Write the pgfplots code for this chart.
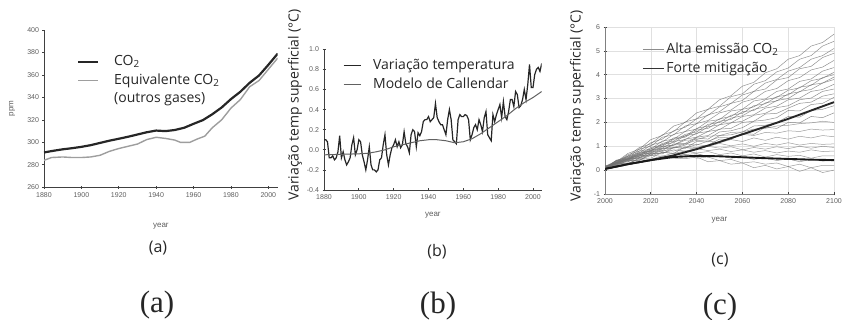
\documentclass[border=0pt]{standalone}
\usepackage{fontspec}
\setmainfont{Open Sans}
\newfontfamily\tickfont{Liberation Sans}
\newfontfamily\bigfont{Liberation Serif}
\usepackage{pgfplots}
\pgfplotsset{compat=1.18}
\usepackage{pgfplotstable}
\definecolor{txt}{HTML}{262626}
\definecolor{tk}{HTML}{5E5E5E}

\pgfplotstableread{
year h1 h2 h3 h4 h5 h6 h7 h8 h9 h10 h11 h12 h13 h14 h15 h16 m1 m2 m3 m4 m5 m6 m7 m8 m9 m10
2000 .10 .05 .15 .08 .12 .10 .05 .15 .08 .12 .10 .18 .05 .15 .10 .12 .10 .05 .12 .08 .15 .10 .05 .12 .10 .15
2005 .28 .18 .30 .25 .32 .22 .35 .25 .38 .28 .40 .30 .42 .32 .40 .35 .25 .30 .20 .32 .22 .35 .28 .38 .30 .40
2010 .25 .42 .35 .48 .40 .50 .42 .55 .45 .58 .48 .60 .52 .65 .58 .70 .30 .25 .40 .35 .45 .38 .48 .42 .52 .45
2015 .52 .40 .60 .52 .65 .58 .70 .62 .75 .65 .80 .72 .88 .80 .95 .88 .45 .50 .42 .55 .50 .60 .52 .68 .60 .72
2020 .50 .70 .62 .78 .72 .85 .80 .90 .82 .95 .88 1.05 1.00 1.15 1.10 1.28 .40 .45 .62 .60 .68 .65 .75 .70 .82 .78
2025 .75 .68 .90 .82 .98 .92 1.08 1.00 1.12 1.05 1.22 1.18 1.38 1.30 1.48 1.45 .55 .60 .58 .75 .72 .82 .78 .92 .88 1.00
2030 .70 .95 .92 1.10 1.05 1.20 1.15 1.30 1.22 1.35 1.30 1.50 1.48 1.65 1.62 1.85 .50 .55 .72 .70 .85 .80 .95 .95 1.05 1.05
2035 .98 .92 1.05 1.12 1.30 1.28 1.45 1.38 1.50 1.42 1.62 1.62 1.85 1.80 2.02 2.00 .48 .65 .65 .80 .80 .95 .92 1.10 1.10 1.25
2040 .95 1.20 1.35 1.38 1.38 1.55 1.52 1.68 1.60 1.75 1.72 1.95 1.95 2.15 2.15 2.40 .55 .50 .70 .72 .90 .88 1.08 1.05 1.25 1.28
2045 1.05 1.18 1.30 1.45 1.62 1.62 1.82 1.75 1.92 1.85 2.05 2.08 2.32 2.30 2.55 2.55 .35 .55 .55 .78 .82 1.00 1.00 1.22 1.22 1.42
2050 1.30 1.45 1.60 1.72 1.70 1.90 1.90 2.05 2.00 2.15 2.12 2.40 2.45 2.65 2.68 2.95 .40 .40 .62 .65 .88 .92 1.12 1.15 1.38 1.45
2055 1.28 1.48 1.65 1.75 1.98 1.98 2.18 2.12 2.30 2.25 2.48 2.52 2.80 2.80 3.08 3.12 .25 .45 .50 .72 .78 .98 1.02 1.28 1.35 1.58
2060 1.55 1.60 1.78 2.00 2.05 2.25 2.28 2.45 2.38 2.55 2.55 2.85 2.92 3.15 3.20 3.52 .30 .30 .55 .60 .85 .85 1.10 1.20 1.50 1.60
2065 1.50 1.85 2.05 2.05 2.30 2.32 2.55 2.50 2.70 2.65 2.90 2.98 3.30 3.30 3.60 3.68 .10 .35 .45 .68 .75 .95 1.00 1.35 1.45 1.72
2070 1.80 1.88 2.10 2.35 2.38 2.60 2.65 2.82 2.78 2.95 2.98 3.30 3.40 3.65 3.75 4.08 .20 .25 .52 .55 .82 .88 1.12 1.25 1.58 1.75
2075 1.75 2.00 2.20 2.38 2.62 2.68 2.92 2.90 3.08 3.05 3.30 3.42 3.78 3.80 4.12 4.25 .05 .30 .40 .65 .72 .98 1.05 1.38 1.55 1.85
2080 2.00 2.25 2.50 2.60 2.70 2.95 3.00 3.20 3.15 3.35 3.40 3.75 3.88 4.15 4.28 4.65 .15 .15 .48 .58 .80 .90 1.15 1.30 1.65 1.88
2085 1.98 2.22 2.48 2.80 2.95 3.02 3.30 3.28 3.48 3.45 3.72 3.88 4.25 4.30 4.65 4.80 -.05 .25 .35 .62 .75 1.00 1.05 1.42 1.62 1.95
2090 2.25 2.50 2.75 2.85 3.02 3.30 3.38 3.58 3.55 3.75 3.82 4.20 4.35 4.65 4.80 5.20 .10 .10 .45 .50 .85 .92 1.12 1.35 1.72 1.98
2095 2.20 2.55 2.80 3.10 3.30 3.38 3.65 3.65 3.88 3.85 4.15 4.32 4.72 4.80 5.20 5.35 -.10 .20 .38 .60 .78 1.00 1.08 1.45 1.68 2.05
2100 2.40 2.70 3.05 3.20 3.40 3.60 3.80 3.90 4.00 4.10 4.30 4.60 4.90 5.10 5.40 5.70 .00 .20 .40 .60 .80 .95 1.10 1.40 1.70 2.00
}\ens

\pgfplotsset{
  panel/.style={
    scale only axis, anchor=south west,
    axis lines*=left,
    axis line style={black!75, line width=0.8pt},
    every tick/.style={black!75, line width=0.7pt},
    major tick length=3pt, tick align=center,
    ticklabel style={font=\tickfont\fontsize{7}{8}\selectfont, text=tk},
    /pgf/number format/assume math mode=true,
    xticklabel style={/pgf/number format/1000 sep={}},
    xlabel style={font=\tickfont\fontsize{8}{9}\selectfont, text=tk, anchor=center},
    ylabel style={anchor=center},
    legend style={draw=none, fill=none, inner sep=0pt, outer sep=0pt,
      font=\fontsize{14}{16}\selectfont, text=txt, row sep=5pt,
      nodes={inner sep=0pt, text height=10.5pt, text depth=3pt},
      cells={anchor=west}},
    legend cell align=left,
  },
}

\begin{document}
\begin{tikzpicture}[x=1pt,y=1pt]
\useasboundingbox (0,0) rectangle (843,320);

% ---------------- (a)
\begin{axis}[panel,
  at={(44pt,132.7pt)}, width=233.7pt, height=157.3pt,
  xmin=1880, xmax=2005, ymin=260, ymax=400,
  xtick={1880,1900,...,2000}, ytick={260,280,...,400},
  xlabel={year}, xlabel style={at={(axis description cs:0.5,-0.246)}},
  ylabel={ppm}, ylabel style={font=\tickfont\fontsize{8}{9}\selectfont, text=tk, at={(axis description cs:-0.137,0.5)}},
  legend image code/.code={\draw[#1] (0pt,0pt) -- (20pt,0pt);},
  legend style={at={(axis description cs:0.141,0.841)}, anchor=north west, column sep=15pt},
]
\addplot[black!85, line width=2.2pt] coordinates {
(1880,291) (1885,292.5) (1890,293.8) (1895,294.8) (1900,296) (1905,297.5) (1910,299.5)
(1915,301.5) (1920,303.2) (1925,305) (1930,307) (1935,309) (1940,310.5) (1945,310)
(1950,311) (1955,313) (1960,316.5) (1965,319.8) (1970,325) (1975,331) (1980,338.5)
(1985,345) (1990,353) (1995,359.5) (2000,369) (2005,379)};
\addlegendentry{CO\textsubscript{2}}
\addplot[black!38, line width=1.4pt] coordinates {
(1880,284) (1884,286.5) (1890,287) (1895,286.5) (1900,286.5) (1905,287) (1910,288.5)
(1915,292) (1920,294.5) (1925,296.5) (1930,298.5) (1935,302.5) (1940,304.5) (1945,303.5)
(1950,302) (1953,300) (1958,300) (1962,303) (1966,305.5) (1970,313) (1975,320)
(1980,330.5) (1985,338) (1990,349.5) (1995,355) (2000,365) (2005,375)};
\addlegendentry{Equivalente CO\textsubscript{2}}
\addlegendimage{empty legend}
\addlegendentry{(outros gases)}
\end{axis}

% ---------------- (b)
\begin{axis}[panel,
  at={(324pt,130pt)}, width=217.7pt, height=140.7pt,
  xmin=1880, xmax=2005, ymin=-0.4, ymax=1.0,
  xtick={1880,1900,...,2000}, ytick={-0.4,-0.2,0,0.2,0.4,0.6,0.8,1.0},
  yticklabel style={/pgf/number format/.cd, fixed, fixed zerofill, precision=1},
  xlabel={year}, xlabel style={at={(axis description cs:0.5,-0.178)}},
  ylabel={Variação temp superficial (°C)},
  ylabel style={font=\fontsize{14}{16}\selectfont, text=txt, at={(axis description cs:-0.133,0.604)}},
  legend image code/.code={\draw[#1] (0pt,0pt) -- (17pt,0pt);},
  legend style={at={(axis description cs:0.087,0.931)}, anchor=north west, column sep=12pt},
]
\addplot[black!85, line width=1.2pt] coordinates {
(1880,0.10) (1881,0.10) (1882,0.08) (1883,-0.08) (1884,-0.08) (1885,-0.06) (1886,-0.10)
(1887,-0.08) (1888,-0.02) (1889,0.14) (1890,-0.08) (1891,-0.02) (1892,-0.10) (1893,-0.15)
(1894,-0.12) (1895,-0.08) (1896,0.05) (1897,0.12) (1898,-0.05) (1899,0.00) (1900,0.10)
(1901,0.08) (1902,-0.05) (1903,-0.12) (1904,-0.20) (1905,-0.10) (1906,0.03) (1907,-0.15)
(1908,-0.20) (1909,-0.20) (1910,-0.22) (1911,-0.20) (1912,-0.10) (1913,-0.08) (1914,0.05)
(1915,0.15) (1916,-0.05) (1917,-0.15) (1918,-0.05) (1919,0.02) (1920,0.05) (1921,0.10)
(1922,0.03) (1923,0.08) (1924,0.02) (1925,0.05) (1926,0.18) (1927,0.06) (1928,0.03)
(1929,-0.03) (1930,0.15) (1931,0.20) (1932,0.18) (1933,0.03) (1934,0.17) (1935,0.14)
(1936,0.18) (1937,0.28) (1938,0.30) (1939,0.30) (1940,0.33) (1941,0.28) (1942,0.30)
(1943,0.32) (1944,0.46) (1945,0.32) (1946,0.28) (1947,0.25) (1948,0.25) (1949,0.20)
(1950,0.15) (1951,0.30) (1952,0.40) (1953,0.30) (1954,0.10) (1955,0.08) (1956,0.06)
(1957,0.30) (1958,0.35) (1959,0.33) (1960,0.33) (1961,0.35) (1962,0.34) (1963,0.30)
(1964,0.10) (1965,0.15) (1966,0.22) (1967,0.25) (1968,0.20) (1969,0.30) (1970,0.25)
(1971,0.18) (1972,0.32) (1973,0.38) (1974,0.15) (1975,0.12) (1976,0.09) (1977,0.35)
(1978,0.28) (1979,0.35) (1980,0.40) (1981,0.45) (1982,0.32) (1983,0.48) (1984,0.33)
(1985,0.30) (1986,0.38) (1987,0.50) (1988,0.50) (1989,0.43) (1990,0.58) (1991,0.55)
(1992,0.42) (1993,0.44) (1994,0.50) (1995,0.60) (1996,0.50) (1997,0.65) (1998,0.85)
(1999,0.62) (2000,0.62) (2001,0.75) (2002,0.80) (2003,0.82) (2004,0.78) (2005,0.86)};
\addlegendentry{Variação temperatura}
\addplot[black!62, line width=1pt] coordinates {
(1880,-0.05) (1890,-0.045) (1900,-0.04) (1905,-0.035) (1910,-0.02) (1915,0.0) (1920,0.03)
(1925,0.05) (1930,0.07) (1935,0.09) (1940,0.10) (1945,0.10) (1950,0.09) (1955,0.07)
(1960,0.08) (1965,0.11) (1970,0.16) (1975,0.22) (1980,0.28) (1985,0.34) (1990,0.41)
(1995,0.47) (2000,0.52) (2005,0.58)};
\addlegendentry{Modelo de Callendar}
\end{axis}

% ---------------- (c)
\begin{axis}[panel,
  at={(605pt,126pt)}, width=229pt, height=167pt,
  xmin=2000, xmax=2100, ymin=-1, ymax=6,
  xtick={2000,2020,...,2100}, ytick={-1,0,...,6},
  grid=major, grid style={black!12, line width=0.5pt},
  axis line style={black!50, line width=0.8pt},
  xlabel={year}, xlabel style={at={(axis description cs:0.5,-0.156)}},
  ylabel={Variação temp superficial (°C)},
  ylabel style={font=\fontsize{14}{16}\selectfont, text=txt, at={(axis description cs:-0.122,0.527)}},
  legend image code/.code={\draw[#1] (0pt,0pt) -- (21pt,0pt);},
  legend style={at={(axis description cs:0.162,0.904)}, anchor=north west, column sep=2pt},
]
\pgfplotsinvokeforeach{1,...,16}{
  \addplot[forget plot, black!58, line width=0.5pt, opacity=0.75] table[x=year, y=h#1] {\ens};
}
\pgfplotsinvokeforeach{1,...,10}{
  \addplot[forget plot, black!55, line width=0.5pt, opacity=0.7] table[x=year, y=m#1] {\ens};
}
\addplot[forget plot, black!85, line width=1.9pt] coordinates {
(2000,0.05) (2010,0.25) (2020,0.42) (2030,0.62) (2040,0.88) (2050,1.18) (2060,1.5)
(2070,1.82) (2080,2.15) (2090,2.5) (2100,2.85)};
\addplot[forget plot, black!90, line width=1.9pt] coordinates {
(2000,0.05) (2010,0.25) (2020,0.42) (2030,0.55) (2040,0.60) (2050,0.58) (2060,0.54)
(2070,0.50) (2080,0.47) (2090,0.44) (2100,0.42)};
\addlegendimage{black!45, line width=1.3pt}
\addlegendentry{Alta emissão CO\textsubscript{2}}
\addlegendimage{black!80, line width=1.3pt}
\addlegendentry{Forte mitigação}
\end{axis}

% panel letters
\node[font=\fontsize{16}{19}\selectfont, text=txt] at (158,72) {(a)};
\node[font=\fontsize{16}{19}\selectfont, text=txt] at (437,68) {(b)};
\node[font=\fontsize{16}{19}\selectfont, text=txt] at (720,60) {(c)};
\node[font=\bigfont\fontsize{31}{36}\selectfont, text=black!85] at (157,15) {(a)};
\node[font=\bigfont\fontsize{31}{36}\selectfont, text=black!85] at (438,14) {(b)};
\node[font=\bigfont\fontsize{31}{36}\selectfont, text=black!85] at (720,13) {(c)};
\end{tikzpicture}
\end{document}
